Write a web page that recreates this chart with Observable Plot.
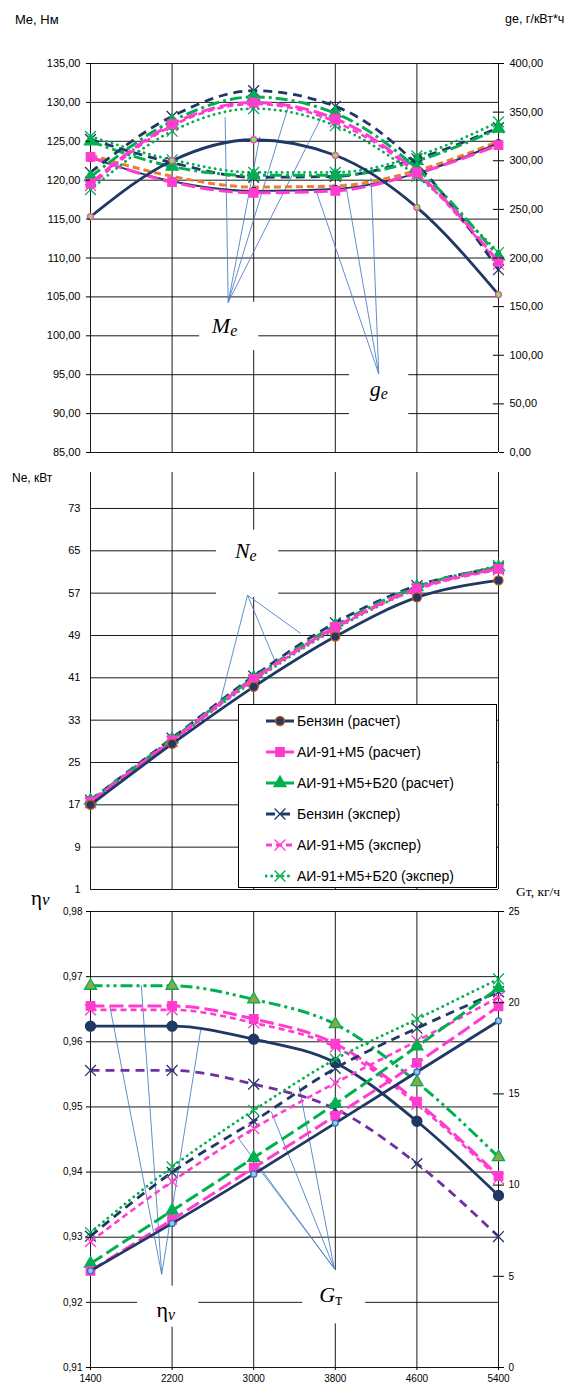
<!DOCTYPE html>
<html><head><meta charset="utf-8">
<script src="https://cdn.jsdelivr.net/npm/d3@7"></script>
<script src="https://cdn.jsdelivr.net/npm/@observablehq/plot@0.6"></script>
<style>
body{margin:0;background:#fff;font-family:"Liberation Sans",Arial,sans-serif;}
#wrap{position:relative;width:581px;height:1387px;overflow:hidden;background:#fff}
.abs{position:absolute;white-space:nowrap;color:#000}
.serif{font-family:"Liberation Serif","Times New Roman",serif}
</style></head><body><div id="wrap"></div><script>
// ---------- data ----------
const rpm = [1400, 2200, 3000, 3800, 4600, 5400];

// Panel 1: effective torque Me, N·m (left axis)
const meBenzCalc = [115.3, 122.5, 125.2, 123.2, 116.5, 105.3];
const meAiCalc   = [119.6, 127.2, 130.0, 127.9, 121.0, 109.5];
const meB20Calc  = [120.4, 127.6, 130.7, 128.6, 121.5, 110.2];
const meBenzExp  = [121.0, 128.2, 131.5, 129.5, 122.0, 108.5];
const meAiExp    = [119.3, 127.0, 129.8, 127.5, 120.8, 109.2];
const meB20Exp   = [118.8, 126.3, 129.2, 127.0, 120.5, 110.7];
// Panel 1: specific consumption ge, g/kWh (right axis)
const geBenzCalc = [303, 279, 269, 271, 287, 318];
const geAiCalc   = [304, 278, 267, 269, 287, 316];
const geB20Calc  = [320, 294, 285, 285, 300, 333];
const geBenzExp  = [322, 298, 283, 284, 302, 334];
const geAiExp    = [306, 284, 273, 274, 290, 320];
const geB20Exp   = [325, 301, 288, 288, 305, 340];

// Panel 2: power Ne, kW
const neBenzCalc = [17.0, 28.5, 39.3, 48.8, 56.2, 59.4];
const neAiCalc   = [17.6, 29.2, 40.8, 50.6, 57.9, 61.6];
const neB20Calc  = [17.8, 29.4, 41.0, 50.9, 58.2, 61.9];
const neBenzExp  = [17.9, 29.6, 41.3, 51.4, 58.4, 61.8];
const neAiExp    = [17.5, 29.0, 40.6, 50.4, 57.7, 61.4];
const neB20Exp   = [17.4, 29.0, 40.4, 50.2, 57.8, 62.2];

// Panel 3: volumetric efficiency (left axis)
const etaBenzCalc = [0.9624, 0.9624, 0.9604, 0.9568, 0.9478, 0.9364];
const etaAiCalc   = [0.9655, 0.9655, 0.9635, 0.9597, 0.9508, 0.9394];
const etaB20Calc  = [0.9686, 0.9686, 0.9665, 0.9627, 0.9538, 0.9423];
const etaBenzExp  = [0.9556, 0.9556, 0.9535, 0.9497, 0.9413, 0.9301];
const etaAiExp    = [0.9649, 0.9649, 0.9629, 0.9592, 0.9504, 0.9390];
// Panel 3: fuel consumption Gт, kg/h (right axis)
const gtBenzCalc = [5.3, 7.9, 10.6, 13.4, 16.2, 19.0];
const gtAiCalc   = [5.3, 8.1, 10.95, 13.8, 16.7, 19.8];
const gtB20Calc  = [5.7, 8.6, 11.5, 14.45, 17.6, 20.8];
const gtBenzExp  = [7.2, 10.7, 13.5, 16.4, 18.6, 20.6];
const gtAiExp    = [6.9, 10.2, 13.1, 15.6, 17.9, 20.3];
const gtB20Exp   = [7.4, 11.0, 14.1, 16.9, 19.1, 21.3];

// ticks
const xTicks   = [1400, 2200, 3000, 3800, 4600, 5400];
const meTicks  = [85, 90, 95, 100, 105, 110, 115, 120, 125, 130, 135];
const geTicks  = [0, 50, 100, 150, 200, 250, 300, 350, 400];
const neTicks  = [1, 9, 17, 25, 33, 41, 49, 57, 65, 73];
const etaTicks = [0.91, 0.92, 0.93, 0.94, 0.95, 0.96, 0.97, 0.98];
const gtTicks  = [0, 5, 10, 15, 20, 25];

const legendNames = ["Бензин (расчет)", "АИ-91+М5 (расчет)", "АИ-91+М5+Б20 (расчет)",
                     "Бензин (экспер)", "АИ-91+М5 (экспер)", "АИ-91+М5+Б20 (экспер)"];

// annotation labels (data units) and leader lines
const meLabel = {x: 2750, y: 101.3, box: [2470, 3050, 98.1, 104.3]};
const meLeaders = [[2750,104.3,2720,128.1],[2750,104.3,3060,125.6],[2750,104.3,3338,129.4],[2750,104.3,3683,128.6]];
const geLabel = {x: 4225, y: 93.2, box: [3940, 4520, 89.6, 96.0]};
const geLeaders = [[4226,95.1,3610,118.7],[4226,95.1,3900,119.6],[4226,95.1,4150,120.3]];
const neLabel = {x: 2940, y: 65.0, box: [2635, 3245, 56.2, 68.9]};
const neLeaders = [[2940,56.6,2675,36.7],[2940,56.6,3214,43.9],[2940,56.6,3460,49.4]];
const etaLabel = {x: 2140, y: 0.9188, box: [1862, 2462, 0.9162, 0.9225]};
const etaLeaders = [[2098,0.9243,1589,0.9655],[2098,0.9243,1898,0.9687],[2098,0.9243,2480,0.9618]];
const gtLabel = {x: 3780, y: 0.9212, box: [3480, 4098, 0.9167, 0.9249]};
const gtLeaders = [[3790,0.9252,2844,0.9453],[3790,0.9252,3044,0.9407],[3790,0.9252,3171,0.9493],[3790,0.9252,3444,0.9532]];

// ---------- styles ----------
const NAVY="#1f3864", MAG="#ff3ccf", GREEN="#00b050", ORANGE="#ed7d31", PURPLE="#7030a0", LEAD="#4f81c7";
const S = {
  benzCalc: {color:NAVY, w:2.8, symbol:"circle", r:4.5, fill:NAVY, mstroke:"#c55a11"},
  aiCalc:   {color:MAG, w:3, dash:"14,5", symbol:"square", r:4.8, fill:MAG},
  b20Calc:  {color:GREEN, w:3, dash:"12,4,3,4", symbol:"triangle", r:4.5, fill:GREEN},
  benzExp:  {color:NAVY, w:2.8, dash:"9,6", symbol:"times", r:5},
  aiExp:    {color:MAG, w:2.6, dash:"6,4", symbol:"times", r:5},
  b20Exp:   {color:GREEN, w:2.8, dash:"0.1,5.5", cap:"round", symbol:"times", r:5},
};
const ser = (ys, map = v => v) => rpm.map((x, i) => ({x, y: map(ys[i])}));
function lineMarks(data, st, opts = {}) {
  const o = {...st, ...opts};
  const m = [Plot.line(data, {x:"x", y:"y", stroke:o.color, strokeWidth:o.w, strokeDasharray:o.dash,
    strokeLinecap:o.cap || "butt", curve:"monotone-x"})];
  if (o.symbol) m.push(Plot.dot(data, {x:"x", y:"y", symbol:o.symbol, r:o.r,
    fill:o.fill || "none", stroke:o.mstroke || o.color, strokeWidth:o.msw || 1.3}));
  return m;
}
const comma = d => d.toFixed(2).replace(".", ",");
const boxMark = b => Plot.rect([b], {x1:d=>d[0], x2:d=>d[1], y1:d=>d[2], y2:d=>d[3], fill:"white"});
const leadMark = L => Plot.link(L, {x1:d=>d[0], y1:d=>d[1], x2:d=>d[2], y2:d=>d[3], stroke:LEAD, strokeWidth:0.9});
function mathLabel(lab, main, sub, mainItalic = true, subItalic = true, size = 22) {
  return [
    Plot.text([lab], {x:"x", y:"y", text:()=>main, fontFamily:"Liberation Serif, serif",
      fontStyle: mainItalic ? "italic" : "normal", fontSize:size, fill:"#000", textAnchor:"end", dx:2}),
    Plot.text([lab], {x:"x", y:"y", text:()=>sub, fontFamily:"Liberation Serif, serif",
      fontStyle: subItalic ? "italic" : "normal", fontSize:size*0.72, fill:"#000", textAnchor:"start", dx:2, dy:5})
  ];
}
const gridStyle = {stroke:"#000", strokeWidth:1, strokeOpacity:0.9};
const wrap = document.getElementById("wrap");
function place(node, top) { node.style.position = "absolute"; node.style.left = "0px"; node.style.top = top + "px"; wrap.appendChild(node); }
function addText(txt, left, top, size, cls = "") {
  const d = document.createElement("div"); d.className = "abs " + cls; d.style.left = left + "px"; d.style.top = top + "px";
  d.style.fontSize = size + "px"; d.innerHTML = txt; wrap.appendChild(d);
}

// ---------- panel 1 ----------
const geToMe = g => 85 + g / 8, meToGe = m => (m - 85) * 8;
const p1 = Plot.plot({
  width:581, height:460, marginLeft:90, marginRight:83, marginTop:63, marginBottom:8,
  style:{fontFamily:"Liberation Sans, Arial, sans-serif", fontSize:"11px", color:"#000", background:"transparent"},
  x:{domain:[1400,5400], axis:null}, y:{domain:[85,135], axis:null},
  marks:[
    Plot.ruleY(meTicks, gridStyle),
    Plot.ruleX(xTicks, gridStyle),
    boxMark(meLabel.box), boxMark(geLabel.box),
    leadMark(meLeaders), leadMark(geLeaders),
    ...lineMarks(ser(geAiExp, geToMe), {color:ORANGE, w:3, dash:"7,4"}),
    ...lineMarks(ser(geB20Exp, geToMe), S.b20Exp),
    ...lineMarks(ser(geBenzExp, geToMe), S.benzExp),
    ...lineMarks(ser(geB20Calc, geToMe), S.b20Calc),
    ...lineMarks(ser(geBenzCalc, geToMe), {...S.benzCalc, w:2, symbol:"circle", r:3.5, fill:NAVY, mstroke:NAVY}),
    ...lineMarks(ser(geAiCalc, geToMe), S.aiCalc),
    ...lineMarks(ser(meB20Exp), S.b20Exp),
    ...lineMarks(ser(meAiExp), S.aiExp),
    ...lineMarks(ser(meBenzExp), S.benzExp),
    ...lineMarks(ser(meB20Calc), S.b20Calc),
    ...lineMarks(ser(meAiCalc), S.aiCalc),
    ...lineMarks(ser(meBenzCalc), {...S.benzCalc, r:3, fill:"#66ff33", mstroke:MAG}),
    Plot.axisY(meTicks, {anchor:"left", label:null, tickFormat:comma, tickSize:4, tickPadding:6}),
    Plot.axisY(geTicks.map(geToMe), {anchor:"right", label:null, tickFormat:d => comma(meToGe(d)), tickSize:5, tickPadding:6}),
    Plot.ruleY(geTicks.map(geToMe), {x1:5350, x2:5400, stroke:"#000"}),
    ...mathLabel(meLabel, "M", "e"),
    ...mathLabel(geLabel, "g", "e"),
  ]
});
place(p1, 0);

// ---------- panel 2 ----------
const p2 = Plot.plot({
  width:581, height:442, marginLeft:90, marginRight:83, marginTop:12, marginBottom:13,
  style:{fontFamily:"Liberation Sans, Arial, sans-serif", fontSize:"11px", color:"#000", background:"transparent"},
  x:{domain:[1400,5400], axis:null}, y:{domain:[1,79.8], axis:null},
  marks:[
    Plot.ruleY(neTicks, gridStyle),
    Plot.ruleX(xTicks, gridStyle),
    boxMark(neLabel.box),
    leadMark(neLeaders),
    ...lineMarks(ser(neB20Exp), S.b20Exp),
    ...lineMarks(ser(neAiExp), S.aiExp),
    ...lineMarks(ser(neBenzExp), S.benzExp),
    ...lineMarks(ser(neB20Calc), S.b20Calc),
    ...lineMarks(ser(neAiCalc), S.aiCalc),
    ...lineMarks(ser(neBenzCalc), S.benzCalc),
    Plot.axisY(neTicks, {anchor:"left", label:null, tickFormat:d => String(d), tickSize:0, tickPadding:10}),
    ...mathLabel(neLabel, "N", "e"),
  ]
});
place(p2, 460);

// ---------- panel 3 ----------
const gtToEta = g => 0.91 + g * 0.0028, etaToGt = e => (e - 0.91) / 0.0028;
const p3 = Plot.plot({
  width:581, height:495, marginLeft:90, marginRight:83, marginTop:19, marginBottom:20,
  style:{fontFamily:"Liberation Sans, Arial, sans-serif", fontSize:"10px", color:"#000", background:"transparent"},
  x:{domain:[1400,5400]}, y:{domain:[0.91,0.98], axis:null},
  marks:[
    Plot.ruleY(etaTicks, gridStyle),
    Plot.ruleX(xTicks, gridStyle),
    boxMark(etaLabel.box), boxMark(gtLabel.box),
    leadMark(etaLeaders), leadMark(gtLeaders),
    ...lineMarks(ser(etaBenzExp), {color:PURPLE, w:2.8, dash:"9,6", symbol:"times", r:5, mstroke:NAVY}),
    ...lineMarks(ser(etaAiExp), S.aiExp),
    ...lineMarks(ser(etaAiCalc), S.aiCalc),
    ...lineMarks(ser(etaB20Calc), {...S.b20Calc, dash:"12,4,3,4,3,4", fill:"#8aa84a", mstroke:GREEN}),
    ...lineMarks(ser(etaBenzCalc), {...S.benzCalc, r:5, fill:NAVY, mstroke:NAVY}),
    ...lineMarks(ser(gtB20Exp, gtToEta), S.b20Exp),
    ...lineMarks(ser(gtBenzExp, gtToEta), S.benzExp),
    ...lineMarks(ser(gtAiExp, gtToEta), S.aiExp),
    ...lineMarks(ser(gtB20Calc, gtToEta), {...S.b20Calc, dash:"14,5"}),
    ...lineMarks(ser(gtAiCalc, gtToEta), S.aiCalc),
    ...lineMarks(ser(gtBenzCalc, gtToEta), {...S.benzCalc, w:2.8, r:3, fill:"#9dc3e6", mstroke:"#2e75b6"}),
    Plot.axisY(etaTicks, {anchor:"left", label:null, tickFormat:comma, tickSize:4, tickPadding:4}),
    Plot.axisY(gtTicks.map(gtToEta), {anchor:"right", label:null, tickFormat:d => String(Math.round(etaToGt(d))), tickSize:5, tickPadding:5}),
    Plot.ruleY(gtTicks.map(gtToEta), {x1:5350, x2:5400, stroke:"#000"}),
    Plot.axisX(xTicks, {anchor:"bottom", label:null, tickFormat:d => String(d), tickSize:3, tickPadding:4}),
    ...mathLabel(etaLabel, "η", "v", false, true, 22),
    ...mathLabel(gtLabel, "G", "т", true, false, 22),
  ]
});
place(p3, 892);

// ---------- axis titles ----------
addText("Me, Нм", 15, 12, 13);
addText("ge, г/кВт*ч", 505, 12, 12.5);
addText("Ne, кВт", 12, 471, 12);
addText("η<i style='font-size:17px'>v</i>", 31, 886, 21, "serif");
addText("Gт, кг/ч", 516, 884, 13.5, "serif");

// ---------- legend ----------
const legendStyles = [
  {...S.benzCalc, dash:null, r:4.5},
  {...S.aiCalc, dash:null},
  {...S.b20Calc, dash:null},
  S.benzExp, S.aiExp, S.b20Exp
];
const leg = document.createElement("div");
leg.style.cssText = "position:absolute;left:238px;top:704px;width:259px;height:184px;border:1px solid #000;background:#fff;box-sizing:border-box";
wrap.appendChild(leg);
legendNames.forEach((name, i) => {
  const st = legendStyles[i];
  const row = document.createElement("div");
  row.style.cssText = `position:absolute;left:26px;top:${6 + i * 31}px;height:20px;display:flex;align-items:center;font-size:14px;white-space:nowrap`;
  const svg = d3.create("svg").attr("width", 30).attr("height", 16).style("margin-right", "2px");
  svg.append("line").attr("x1", 1).attr("x2", 29).attr("y1", 8).attr("y2", 8)
    .attr("stroke", st.color).attr("stroke-width", 3).attr("stroke-dasharray", st.dash || null)
    .attr("stroke-linecap", st.cap || "butt");
  const sym = {circle:d3.symbolCircle, square:d3.symbolSquare, triangle:d3.symbolTriangle, times:d3.symbolTimes}[st.symbol];
  svg.append("path").attr("d", d3.symbol(sym, Math.PI * st.r * st.r)()).attr("transform", "translate(15,8)")
    .attr("fill", st.fill || "none").attr("stroke", st.mstroke || st.color).attr("stroke-width", 1.3);
  row.appendChild(svg.node());
  const t = document.createElement("span"); t.textContent = name; row.appendChild(t);
  leg.appendChild(row);
});
</script></body></html>
